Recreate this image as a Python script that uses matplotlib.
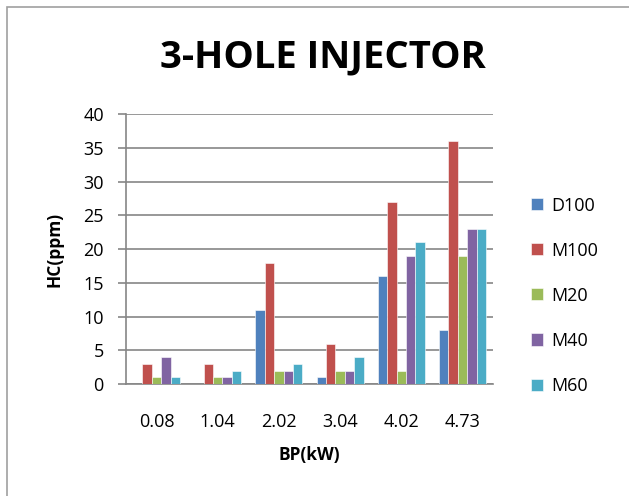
import numpy as np
import matplotlib.pyplot as plt
from matplotlib.patches import Rectangle

plt.rcParams['font.family'] = ['Open Sans', 'DejaVu Sans']

bp_loads = ['0.08', '1.04', '2.02', '3.04', '4.02', '4.73']
series_names = ['D100', 'M100', 'M20', 'M40', 'M60']
d100 = [0, 0, 11, 1, 16, 8]
m100 = [3, 3, 18, 6, 27, 36]
m20 = [1, 1, 2, 2, 2, 19]
m40 = [4, 1, 2, 2, 19, 23]
m60 = [1, 2, 3, 4, 21, 23]
colors = ['#4F81BD', '#C0504D', '#9BBB59', '#8064A2', '#4BACC6']

fig = plt.figure(figsize=(6.29, 4.96), dpi=100)
fig.patches.append(Rectangle((0.011, -0.01), 1.0, 0.995, transform=fig.transFigure,
                             fill=False, edgecolor='#A0A0A0', linewidth=1.2))
ax = fig.add_axes([0.2003, 0.2258, 0.5835, 0.544])

x = np.arange(len(bp_loads))
w = 0.154
for i, (vals, name) in enumerate(zip([d100, m100, m20, m40, m60], series_names)):
    ax.bar(x + (i - 2) * w, vals, w, color=colors[i], label=name,
           edgecolor='white', linewidth=0.4, zorder=3)

ax.set_xlim(-0.5, len(bp_loads) - 0.5)
ax.set_ylim(0, 40)
ax.set_yticks(range(0, 41, 5))
ax.set_xticks(x)
ax.set_xticklabels(bp_loads)
ax.yaxis.grid(True, color='#868686', linewidth=1.2, zorder=0)
for s in ['top', 'right']:
    ax.spines[s].set_visible(False)
ax.spines['left'].set_color('#868686')
ax.spines['bottom'].set_color('#868686')
ax.spines['left'].set_linewidth(1.2)
ax.spines['bottom'].set_linewidth(1.2)
ax.tick_params(axis='y', length=6, color='#868686', width=1.2, labelsize=13, pad=10)
ax.tick_params(axis='x', length=0, labelsize=13, pad=21)

ax.set_xlabel('BP(kW)', fontsize=12.5, fontweight='bold', labelpad=10.5)
ax.set_ylabel('HC(ppm)', fontsize=12.5, fontweight='bold', labelpad=14.5)
fig.text(0.513, 0.885, '3-HOLE INJECTOR', ha='center', va='center',
         fontsize=27.5, fontweight='bold')

ax.legend(loc='center left', bbox_to_anchor=(1.059, 0.327), frameon=False,
          fontsize=13, handlelength=0.65, handleheight=0.65, labelspacing=1.5,
          handletextpad=0.45)

fig.savefig('out.png', dpi=100)
